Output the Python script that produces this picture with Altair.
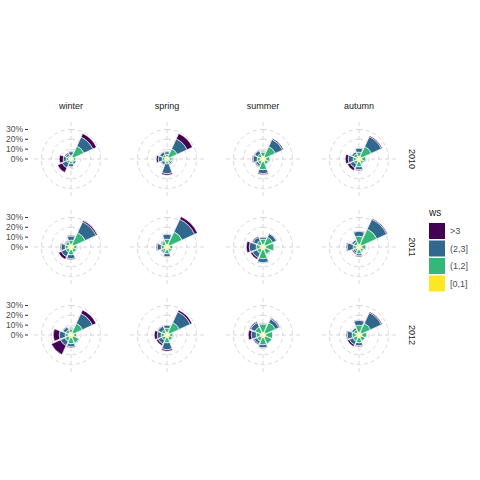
import altair as alt
import pandas as pd

seasons = ["winter", "spring", "summer", "autumn"]
years = ["2010", "2011", "2012"]
directions = ["N", "NE", "E", "SE", "S", "SW", "W", "NW"]
dir_angle = [0, 45, 90, 135, 180, 225, 270, 315]
ws_bins = ["[0,1]", "(1,2]", "(2,3]", ">3"]
legend_order = [">3", "(2,3]", "(1,2]", "[0,1]"]
legend_colors = ["#440154", "#31688E", "#35B779", "#FDE725"]

# share (%) of each ws bin per direction (N, NE, E, SE, S, SW, W, NW)
# panel order: 2010 winter, spring, summer, autumn, 2011 ..., 2012 ...
pct_0_1 = [
    [2.5, 2.5, 2.5, 2.5, 2.5, 2.5, 2.5, 2.5],
    [2.5, 2.5, 2.5, 2.5, 2.5, 2.5, 2.5, 2.5],
    [3, 3, 3, 3, 3, 3, 3, 3],
    [3, 3, 3, 3, 3, 3, 3, 3],
    [3, 3, 3, 3, 3, 3, 3, 3],
    [3, 3, 3, 3, 3, 3, 3, 3],
    [3, 3, 3, 3, 3, 3, 3, 3],
    [3, 3, 3, 3, 3, 3, 3, 3],
    [3, 3, 3, 3, 3, 3, 3, 3],
    [3, 3, 3, 3, 3, 3, 3, 3],
    [3, 3, 3, 3, 3, 3, 3, 3],
    [3, 3, 3, 3, 3, 3, 3, 3],
]
pct_1_2 = [
    [1.5, 12, 2.5, 1.5, 2.5, 2.5, 2.5, 1.5],
    [2.5, 9, 2.5, 2, 2.5, 1.5, 2.5, 2.5],
    [4, 11, 4, 3, 8, 3, 3, 3],
    [4, 11, 4, 2, 5, 3, 3, 3],
    [4, 13, 3, 3, 5, 3, 3, 3],
    [5, 14, 3, 2, 4, 2, 3, 3],
    [5, 8, 8, 5, 9, 4, 4, 4],
    [8, 17, 4, 2, 4, 2, 3, 3],
    [3, 10, 3, 6, 6, 4, 3, 3],
    [4, 11, 3, 3, 5, 3, 3, 3],
    [8, 11, 7, 7, 7, 4, 4, 6],
    [7, 10, 5, 4, 5, 4, 4, 3],
]
pct_2_3 = [
    [3.5, 10, 0.5, 2, 3, 5, 3, 2],
    [2.5, 11, 1, 1.5, 10, 2.5, 4, 3],
    [1, 8, 1, 1, 4, 2, 4, 3.5],
    [4, 11, 1, 1, 3, 4, 5, 2],
    [4, 12, 1, 1, 4, 5, 4, 1],
    [5, 14, 0.5, 1, 3, 1.5, 4, 1],
    [2, 4, 1, 1, 4, 5, 7, 4],
    [5, 11, 1, 1, 2, 2, 6, 2],
    [1, 11, 0.5, 1, 3, 5, 6, 3],
    [3, 12, 1, 1, 7, 4, 4, 4],
    [1, 4, 0.5, 0.5, 3, 3, 5, 5],
    [5, 12, 0.5, 0.5, 3, 4, 5, 2],
]
pct_gt3 = [
    [0.5, 4, 0, 0, 0.5, 5, 4, 1],
    [0.5, 6, 0.5, 0.5, 1.5, 0.5, 2, 0.5],
    [0.5, 1, 0, 0, 1, 1, 1, 0.5],
    [0.5, 1, 0, 0, 1, 3, 3, 0.5],
    [1, 1.5, 0, 0, 1, 3, 1, 0.5],
    [0.5, 3, 0, 0, 0.5, 0.5, 1, 0.5],
    [0.5, 0.5, 0, 0, 0.5, 2, 3, 1],
    [0.5, 1, 0, 0, 1, 1, 1, 0.5],
    [0.5, 4, 0, 0, 1, 10, 6, 0.5],
    [0.5, 2, 0, 0, 1.5, 2, 3, 0.5],
    [0.5, 1, 0, 0, 0.5, 1, 3, 1],
    [0.5, 1, 0, 0, 1, 2, 1, 0.5],
]
all_bins = [pct_0_1, pct_1_2, pct_2_3, pct_gt3]
r_breaks = [0, 10, 20, 30]

rows = []
for yi, yr in enumerate(years):
    for si, se in enumerate(seasons):
        p = yi * 4 + si
        for di, d in enumerate(directions):
            for bi, b in enumerate(ws_bins):
                rows.append(dict(kind="bar", year=yr, season=se, dir=d, angle=dir_angle[di],
                                 ws=b, order=bi, pct=all_bins[bi][p][di], r=0))
        for rv in r_breaks:
            rows.append(dict(kind="ring", year=yr, season=se, dir="", angle=0,
                             ws="", order=0, pct=0, r=rv))
    for rv in r_breaks:
        rows.append(dict(kind="rtick", year=yr, season=seasons[0], dir="", angle=0,
                         ws="", order=0, pct=0, r=rv))
df = pd.DataFrame(rows)

W, H = 86, 82
K = 0.985  # px per percent
FONT = "Liberation Sans"
GRID = "#d3d3d3"
EDGE = W / 2 / K  # panel half-width in percent units

theta_scale = alt.Scale(type="linear", domain=[0, 360], range=[0, 6.283185307179586])
r_scale = alt.Scale(type="linear", domain=[0, 34], range=[0, 34 * K], zero=True)
x_scale = alt.Scale(domain=[-EDGE, EDGE], nice=False, zero=False)
y_scale = alt.Scale(domain=[-H / 2 / K, H / 2 / K], nice=False, zero=False)

circles = alt.Chart().transform_filter(
    "datum.kind == 'ring' && datum.r > 0"
).mark_arc(filled=False, stroke=GRID, strokeDash=[4, 3], strokeWidth=0.9).encode(
    theta=alt.ThetaDatum(datum=0, scale=theta_scale, stack=False),
    theta2=alt.datum(360),
    radius=alt.Radius("r:Q", scale=r_scale, stack=False),
)

vline = alt.Chart().transform_filter("datum.kind == 'ring' && datum.r == 0").mark_rule(
    stroke=GRID, strokeDash=[4, 3], strokeWidth=0.9
).encode(
    x=alt.XDatum(datum=0, scale=x_scale, axis=None),
    y=alt.YDatum(datum=-37.5, scale=y_scale, axis=None),
    y2=alt.datum(37.5),
)
hline = alt.Chart().transform_filter("datum.kind == 'ring' && datum.r == 0").mark_rule(
    stroke=GRID, strokeDash=[4, 3], strokeWidth=0.9
).encode(
    x=alt.XDatum(datum=-37.5, scale=x_scale, axis=None),
    x2=alt.datum(37.5),
    y=alt.YDatum(datum=0, scale=y_scale, axis=None),
)

# radial axis on the left of the first column
rticks = alt.Chart().transform_filter("datum.kind == 'rtick'").mark_rule(
    stroke="#333333", strokeWidth=1
).encode(
    x=alt.XDatum(datum=-EDGE - 3 / K, scale=x_scale, axis=None),
    x2=alt.datum(-EDGE),
    y=alt.Y("r:Q", scale=y_scale, axis=None),
)
rlabels = alt.Chart().transform_filter("datum.kind == 'rtick'").transform_calculate(
    lab="datum.r + '%'"
).mark_text(align="right", baseline="middle", font=FONT, fontSize=8.5,
            color="#4d4d4d").encode(
    x=alt.XDatum(datum=-EDGE - 5 / K, scale=x_scale, axis=None),
    y=alt.Y("r:Q", scale=y_scale, axis=None),
    text="lab:N",
)

arcs = alt.Chart().transform_filter("datum.kind == 'bar'").transform_stack(
    stack="pct", groupby=["year", "season", "dir"], as_=["r0", "r1"],
    sort=[alt.SortField("order", order="ascending")]
).transform_calculate(
    t0="datum.angle - 20.25", t1="datum.angle + 20.25"
).mark_arc(stroke="white", strokeWidth=0.6).encode(
    theta=alt.Theta("t0:Q", scale=theta_scale, stack=False),
    theta2=alt.Theta2("t1:Q"),
    radius=alt.Radius("r1:Q", scale=r_scale, stack=False),
    radius2=alt.Radius2("r0:Q"),
    color=alt.Color("ws:N", scale=alt.Scale(domain=legend_order, range=legend_colors),
                    legend=alt.Legend(title="ws", orient="none", legendX=401, legendY=90,
                                      symbolType="square", symbolSize=256,
                                      symbolStrokeWidth=0, rowPadding=1.5,
                                      labelFont=FONT, labelFontSize=9, labelColor="#4d4d4d",
                                      titleFont=FONT, titleFontSize=10, titleColor="#1a1a1a",
                                      titleFontWeight="normal", titlePadding=5,
                                      labelOffset=5)),
)

chart = alt.layer(hline, vline, circles, rticks, rlabels, arcs, data=df).properties(
    width=W, height=H
).facet(
    row=alt.Row("year:N", title="",
                header=alt.Header(orient="right", labelAngle=90, labelFont=FONT,
                                  labelFontSize=9, labelColor="#1a1a1a", labelPadding=4)),
    column=alt.Column("season:N", sort=seasons, title="",
                      header=alt.Header(labelFont=FONT, labelFontSize=9,
                                        labelColor="#1a1a1a", labelPadding=6)),
    spacing={"row": 4, "column": 8},
).properties(
    padding={"left": 5, "top": 102, "right": 0, "bottom": 0}
).configure_view(stroke="transparent")

chart.save("out.html", embed_options={"renderer": "svg", "actions": False})
